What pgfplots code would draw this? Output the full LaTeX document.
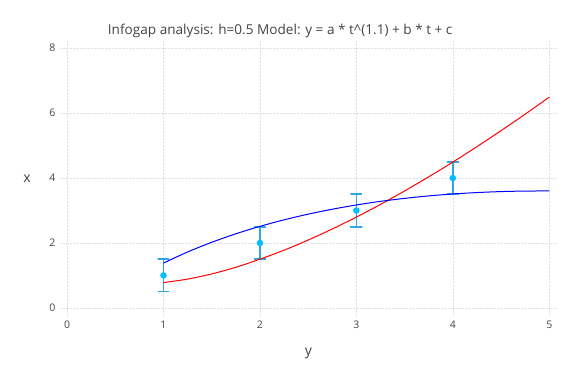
\documentclass[border=0pt]{standalone}
\usepackage{pgfplots}
\pgfplotsset{compat=1.18}
\usepackage{fontspec}
\setmainfont{Open Sans}
\definecolor{txt}{HTML}{444444}
\definecolor{gridc}{HTML}{E0E0EA}
\definecolor{mk}{HTML}{00BFFF}
\definecolor{eb}{HTML}{30A8DE}
\begin{document}
\begin{tikzpicture}[x=1pt,y=1pt]
\path[use as bounding box] (-60,-68) rectangle (516,316);
\begin{axis}[
  at={(0,0)}, anchor=south west,
  scale only axis, width=497pt, height=275pt,
  xmin=-0.073, xmax=5.08, ymin=-0.25, ymax=8.22,
  clip=false,
  axis line style={draw=none},
  tick style={draw=none},
  xtick={0,1,2,3,4,5}, ytick={0,2,4,6,8},
  grid=major,
  major grid style={gridc, densely dotted, line width=0.6pt},
  ticklabel style={font=\fontsize{10.5}{12}\selectfont, text=txt},
  /pgf/number format/assume math mode=true,
  xticklabel style={yshift=-1pt},
  yticklabel style={xshift=-1pt},
  title={Infogap analysis: h=0.5 Model: y = a * t\^{}(1.1) + b * t + c},
  title style={font=\fontsize{13.6}{16}\selectfont, text=txt, at={(0.443,1)}, anchor=base, yshift=1pt},
  xlabel={y}, ylabel={x},
  label style={font=\fontsize{14}{16}\selectfont, text=txt},
  xlabel style={yshift=-13pt},
  ylabel style={rotate=-90, xshift=-12pt},
]
% error bars: value +- 0.5, drawn as I-shapes with caps
\addplot[draw=eb, line width=1.6pt, mark=none, solid] coordinates {(0.938,0.5)(1.062,0.5)(1,0.5)(1,1.5)(0.938,1.5)(1.062,1.5)};
\addplot[draw=eb, line width=1.6pt, mark=none, solid] coordinates {(1.938,1.5)(2.062,1.5)(2,1.5)(2,2.5)(1.938,2.5)(2.062,2.5)};
\addplot[draw=eb, line width=1.6pt, mark=none, solid] coordinates {(2.938,2.5)(3.062,2.5)(3,2.5)(3,3.5)(2.938,3.5)(3.062,3.5)};
\addplot[draw=eb, line width=1.6pt, mark=none, solid] coordinates {(3.938,3.5)(4.062,3.5)(4,3.5)(4,4.5)(3.938,4.5)(4.062,4.5)};
\addplot[red, line width=1pt, smooth, mark=none] coordinates {
(1,0.78)(1.25,0.886)(1.5,1.046)(1.75,1.251)(2,1.50)(2.25,1.777)(2.5,2.089)(2.75,2.430)
(3,2.796)(3.25,3.188)(3.5,3.602)(3.75,4.037)(4,4.49)(4.25,4.966)(4.5,5.458)(4.75,5.967)(5,6.492)};
\addplot[blue, line width=1pt, smooth, mark=none] coordinates {
(1,1.38)(1.25,1.722)(1.5,2.020)(1.75,2.282)(2,2.511)(2.25,2.712)(2.5,2.887)(2.75,3.039)
(3,3.17)(3.25,3.281)(3.5,3.373)(3.75,3.449)(4,3.508)(4.25,3.552)(4.5,3.582)(4.75,3.598)(5,3.601)};
\addplot[only marks, mark=*, mark size=3pt, mark options={draw=mk, fill=mk}]
  coordinates {(1,1)(2,2)(3,3)(4,4)};
\end{axis}
\end{tikzpicture}
\end{document}
